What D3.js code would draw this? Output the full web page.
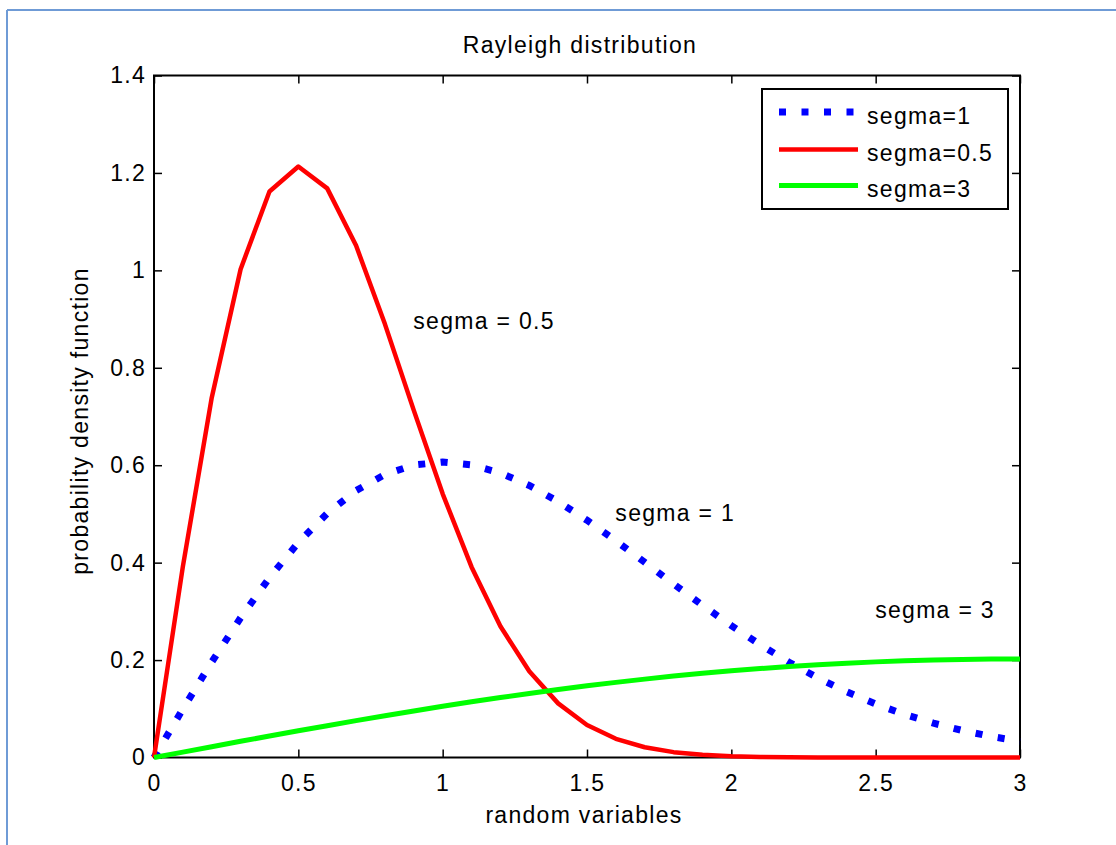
<!DOCTYPE html>
<html>
<head>
<meta charset="utf-8">
<script src="https://cdn.jsdelivr.net/npm/d3@7"></script>
<style>
  html, body { margin: 0; padding: 0; background: #fff; }
  svg text { font-family: "Liberation Sans", Arial, sans-serif; font-size: 23px; letter-spacing: 1.3px; fill: #000; }
</style>
</head>
<body>
<svg id="chart" width="1116" height="845"></svg>
<script>
// ---- data ----
const xValues = [0,0.1,0.2,0.3,0.4,0.5,0.6,0.7,0.8,0.9,1.0,1.1,1.2,1.3,1.4,1.5,1.6,1.7,1.8,1.9,2.0,2.1,2.2,2.3,2.4,2.5,2.6,2.7,2.8,2.9,3.0];
const sigma1 = [0,0.0995,0.1960,0.2868,0.3692,0.4412,0.5012,0.5479,0.5809,0.6003,0.6065,0.6007,0.5841,0.5585,0.5254,0.4870,0.4448,0.4007,0.3562,0.3126,0.2707,0.2316,0.1956,0.1633,0.1347,0.1098,0.0884,0.0705,0.0555,0.0432,0.0333];
const sigma05 = [0,0.3921,0.7385,1.0024,1.1618,1.2131,1.1683,1.0509,0.8897,0.7126,0.5413,0.3912,0.2694,0.1770,0.1111,0.0667,0.0383,0.0210,0.0110,0.0056,0.0027,0.0012,0.0006,0.0002,0.0001,0,0,0,0,0,0];
const sigma3 = [0,0.0111,0.0222,0.0332,0.0440,0.0548,0.0653,0.0757,0.0858,0.0956,0.1051,0.1143,0.1231,0.1315,0.1395,0.1471,0.1542,0.1609,0.1671,0.1728,0.1779,0.1826,0.1868,0.1905,0.1936,0.1963,0.1984,0.2001,0.2013,0.2020,0.2022];
const seriesNames = ["segma=1","segma=0.5","segma=3"];
const xTicks = [0,0.5,1,1.5,2,2.5,3];
const yTicks = [0,0.2,0.4,0.6,0.8,1,1.2,1.4];
const titleText = "Rayleigh distribution";
const xLabelText = "random variables";
const yLabelText = "probability density function";
const annotations = [
  {text: "segma = 0.5", x: 0.9, y: 0.88},
  {text: "segma = 1", x: 1.6, y: 0.485},
  {text: "segma = 3", x: 2.5, y: 0.287}
];

// ---- layout ----
const svg = d3.select("#chart");
const L = 154, R = 1020, T = 75.5, B = 757.5;
const x = d3.scaleLinear().domain([0,3]).range([L,R]);
const y = d3.scaleLinear().domain([0,1.4]).range([B,T]);

// outer light-blue frame (top and left visible)
svg.append("line").attr("x1",7).attr("x2",1116).attr("y1",10).attr("y2",10).attr("stroke","#6f9bd6").attr("stroke-width",2);
svg.append("line").attr("x1",7).attr("x2",7).attr("y1",10).attr("y2",845).attr("stroke","#6f9bd6").attr("stroke-width",2);

// axes box
svg.append("rect").attr("x",L).attr("y",T).attr("width",R-L).attr("height",B-T)
  .attr("fill","none").attr("stroke","#000").attr("stroke-width",2);

const fmt = d => d3.format("")(d);
const gB = svg.append("g").attr("transform",`translate(0,${B})`)
  .call(d3.axisBottom(x).tickValues(xTicks).tickFormat(fmt).tickSizeInner(-8).tickSizeOuter(0));
const gT = svg.append("g").attr("transform",`translate(0,${T})`)
  .call(d3.axisTop(x).tickValues(xTicks).tickFormat("").tickSizeInner(-8).tickSizeOuter(0));
const gL = svg.append("g").attr("transform",`translate(${L},0)`)
  .call(d3.axisLeft(y).tickValues(yTicks).tickFormat(fmt).tickSizeInner(-8).tickSizeOuter(0).tickPadding(8));
const gR = svg.append("g").attr("transform",`translate(${R},0)`)
  .call(d3.axisRight(y).tickValues(yTicks).tickFormat("").tickSizeInner(-8).tickSizeOuter(0));
[gB,gT,gL,gR].forEach(g => {
  g.select(".domain").remove();
  g.selectAll(".tick line").attr("stroke","#000").attr("stroke-width",1.5);
  g.selectAll("text").attr("font-size",null).attr("font-family",null).attr("fill","#000");
  g.attr("font-size",null).attr("font-family",null);
});
gB.selectAll(".tick text").attr("y",33).attr("dy",null);

// series
const line = d3.line().x((d,i)=>x(xValues[i])).y(d=>y(d));
svg.append("path").datum(sigma1).attr("d",line).attr("fill","none")
  .attr("stroke","#0000ff").attr("stroke-width",7).attr("stroke-dasharray","7 15.5");
svg.append("path").datum(sigma05).attr("d",line).attr("fill","none")
  .attr("stroke","#ff0000").attr("stroke-width",4.5).attr("stroke-linejoin","round");
svg.append("path").datum(sigma3).attr("d",line).attr("fill","none")
  .attr("stroke","#00ff00").attr("stroke-width",5).attr("stroke-linejoin","round");

// annotations
annotations.forEach(a => {
  svg.append("text").attr("x",x(a.x)-0.5).attr("y",y(a.y)).text(a.text);
});

// title and axis labels
svg.append("text").attr("x",580).attr("y",53).attr("text-anchor","middle").text(titleText);
svg.append("text").attr("x",584).attr("y",823).attr("text-anchor","middle").text(xLabelText);
svg.append("text").attr("transform","translate(88,421) rotate(-90)").attr("text-anchor","middle").text(yLabelText);

// legend
const lg = svg.append("g");
lg.append("rect").attr("x",762).attr("y",89).attr("width",246).attr("height",120)
  .attr("fill","#fff").attr("stroke","#000").attr("stroke-width",2);
const legendStyles = [
  {color:"#0000ff", width:7, dash:"7 15.5"},
  {color:"#ff0000", width:4.5, dash:null},
  {color:"#00ff00", width:5, dash:null}
];
const rowY = [112, 149.5, 185.5];
seriesNames.forEach((name,i) => {
  const s = legendStyles[i];
  const l = lg.append("line").attr("x1",779).attr("x2",858).attr("y1",rowY[i]).attr("y2",rowY[i])
    .attr("stroke",s.color).attr("stroke-width",s.width);
  if (s.dash) l.attr("stroke-dasharray",s.dash);
  lg.append("text").attr("x",867).attr("y",rowY[i]+11.5).text(name);
});
</script>
</body>
</html>
